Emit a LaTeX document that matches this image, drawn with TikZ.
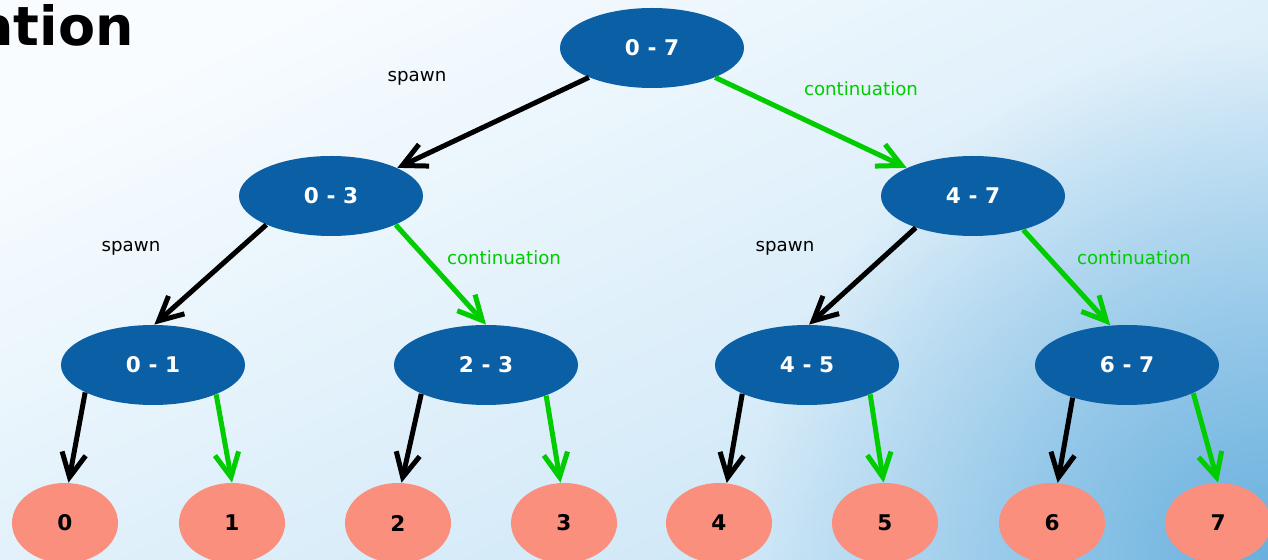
\documentclass[tikz,border=0pt]{standalone}
\usepackage{fontspec}
\setmainfont{DejaVu Sans}
\usetikzlibrary{arrows.meta,shapes.geometric,fadings}

\definecolor{bleunoeud}{RGB}{11,95,165}
\definecolor{saumon}{RGB}{250,143,126}
\definecolor{vert}{RGB}{0,204,0}
\definecolor{fondhaut}{RGB}{248,252,255}
\definecolor{fondbas}{RGB}{202,229,246}
\definecolor{fondcoin}{RGB}{105,176,222}

\pgfdeclareradialshading{haloombre}{\pgfpointorigin}{color(0bp)=(transparent!0); color(6bp)=(transparent!45); color(13bp)=(transparent!100); color(50bp)=(transparent!100)}
\pgfdeclarefading{halo}{\pgfuseshading{haloombre}}

\tikzset{
  tache/.style={ellipse, fill=bleunoeud, text=white, inner sep=0pt,
    minimum width=92pt, minimum height=40pt,
    font=\bfseries\fontsize{10.8}{12}\selectfont},
  feuille/.style={ellipse, fill=saumon, text=black, inner sep=0pt,
    minimum width=53pt, minimum height=40pt,
    font=\bfseries\fontsize{10.8}{12}\selectfont},
  spawn/.style={draw=black, line width=2.5pt,
    -{Straight Barb[length=12pt,width=12pt]}},
  cont/.style={spawn, draw=vert},
  lbl/.style={font=\fontsize{9.1}{11}\selectfont}
}

\begin{document}
\begin{tikzpicture}[x=0.5pt,y=-0.5pt]
    % Fond
    \useasboundingbox (0,0) rectangle (1268,560);
    \clip (0,0) rectangle (1268,560);
    \shade[top color=fondhaut, bottom color=fondbas, shading angle=25] (0,0) rectangle (1268,560);
    \fill[fondcoin, path fading=halo] (1268,560) circle (500pt);

    % Titre
    \node[anchor=base east, inner sep=0pt, font=\bfseries\fontsize{27}{30}\selectfont] (titre) at (134,46) {ation};

    % Taches
    \node[tache] (n07) at (652,48) {0 - 7};
    \node[tache] (n03) at (331,196) {0 - 3};
    \node[tache] (n47) at (973,196) {4 - 7};
    \node[tache] (n01) at (153,365) {0 - 1};
    \node[tache] (n23) at (486,365) {2 - 3};
    \node[tache] (n45) at (807,365) {4 - 5};
    \node[tache] (n67) at (1127,365) {6 - 7};

    % Feuilles
    \node[feuille] (f0) at (65,523) {0};
    \node[feuille] (f1) at (232,523) {1};
    \node[feuille] (f2) at (398,523) {2};
    \node[feuille] (f3) at (564,523) {3};
    \node[feuille] (f4) at (719,523) {4};
    \node[feuille] (f5) at (885,523) {5};
    \node[feuille] (f6) at (1052,523) {6};
    \node[feuille] (f7) at (1218,523) {7};

    % Fleches
    \draw[spawn] (n07.205) -- (n03.23);
    \draw[cont] (n07.335) -- (n47.157);
    \draw[spawn] (n03.204) -- (n01.88);
    \draw[cont] (n03.336) -- (n23.north);
    \draw[spawn] (n47.209) -- (n45.87);
    \draw[cont] (n47.326) -- (n67.113);

    \draw[spawn] (n01.202) -- (f0.85);
    \draw[cont] (n01.335) -- (f1.north);
    \draw[spawn] (n23.204) -- (f2.85);
    \draw[cont] (n23.333) -- (f3.95);
    \draw[spawn] (n45.204) -- (f4.79);
    \draw[cont] (n45.335) -- (f5.92);
    \draw[spawn] (n67.211) -- (f6.82);
    \draw[cont] (n67.337) -- (f7.north);

    % Etiquettes
    \node[lbl] (e07s) at (417,78) {spawn};
    \node[lbl, text=vert] (e07c) at (861,89) {continuation};
    \node[lbl] (e03s) at (131,248) {spawn};
    \node[lbl, text=vert] (e03c) at (504,258) {continuation};
    \node[lbl] (e47s) at (785,248) {spawn};
    \node[lbl, text=vert] (e47c) at (1134,258) {continuation};
\end{tikzpicture}
\end{document}
